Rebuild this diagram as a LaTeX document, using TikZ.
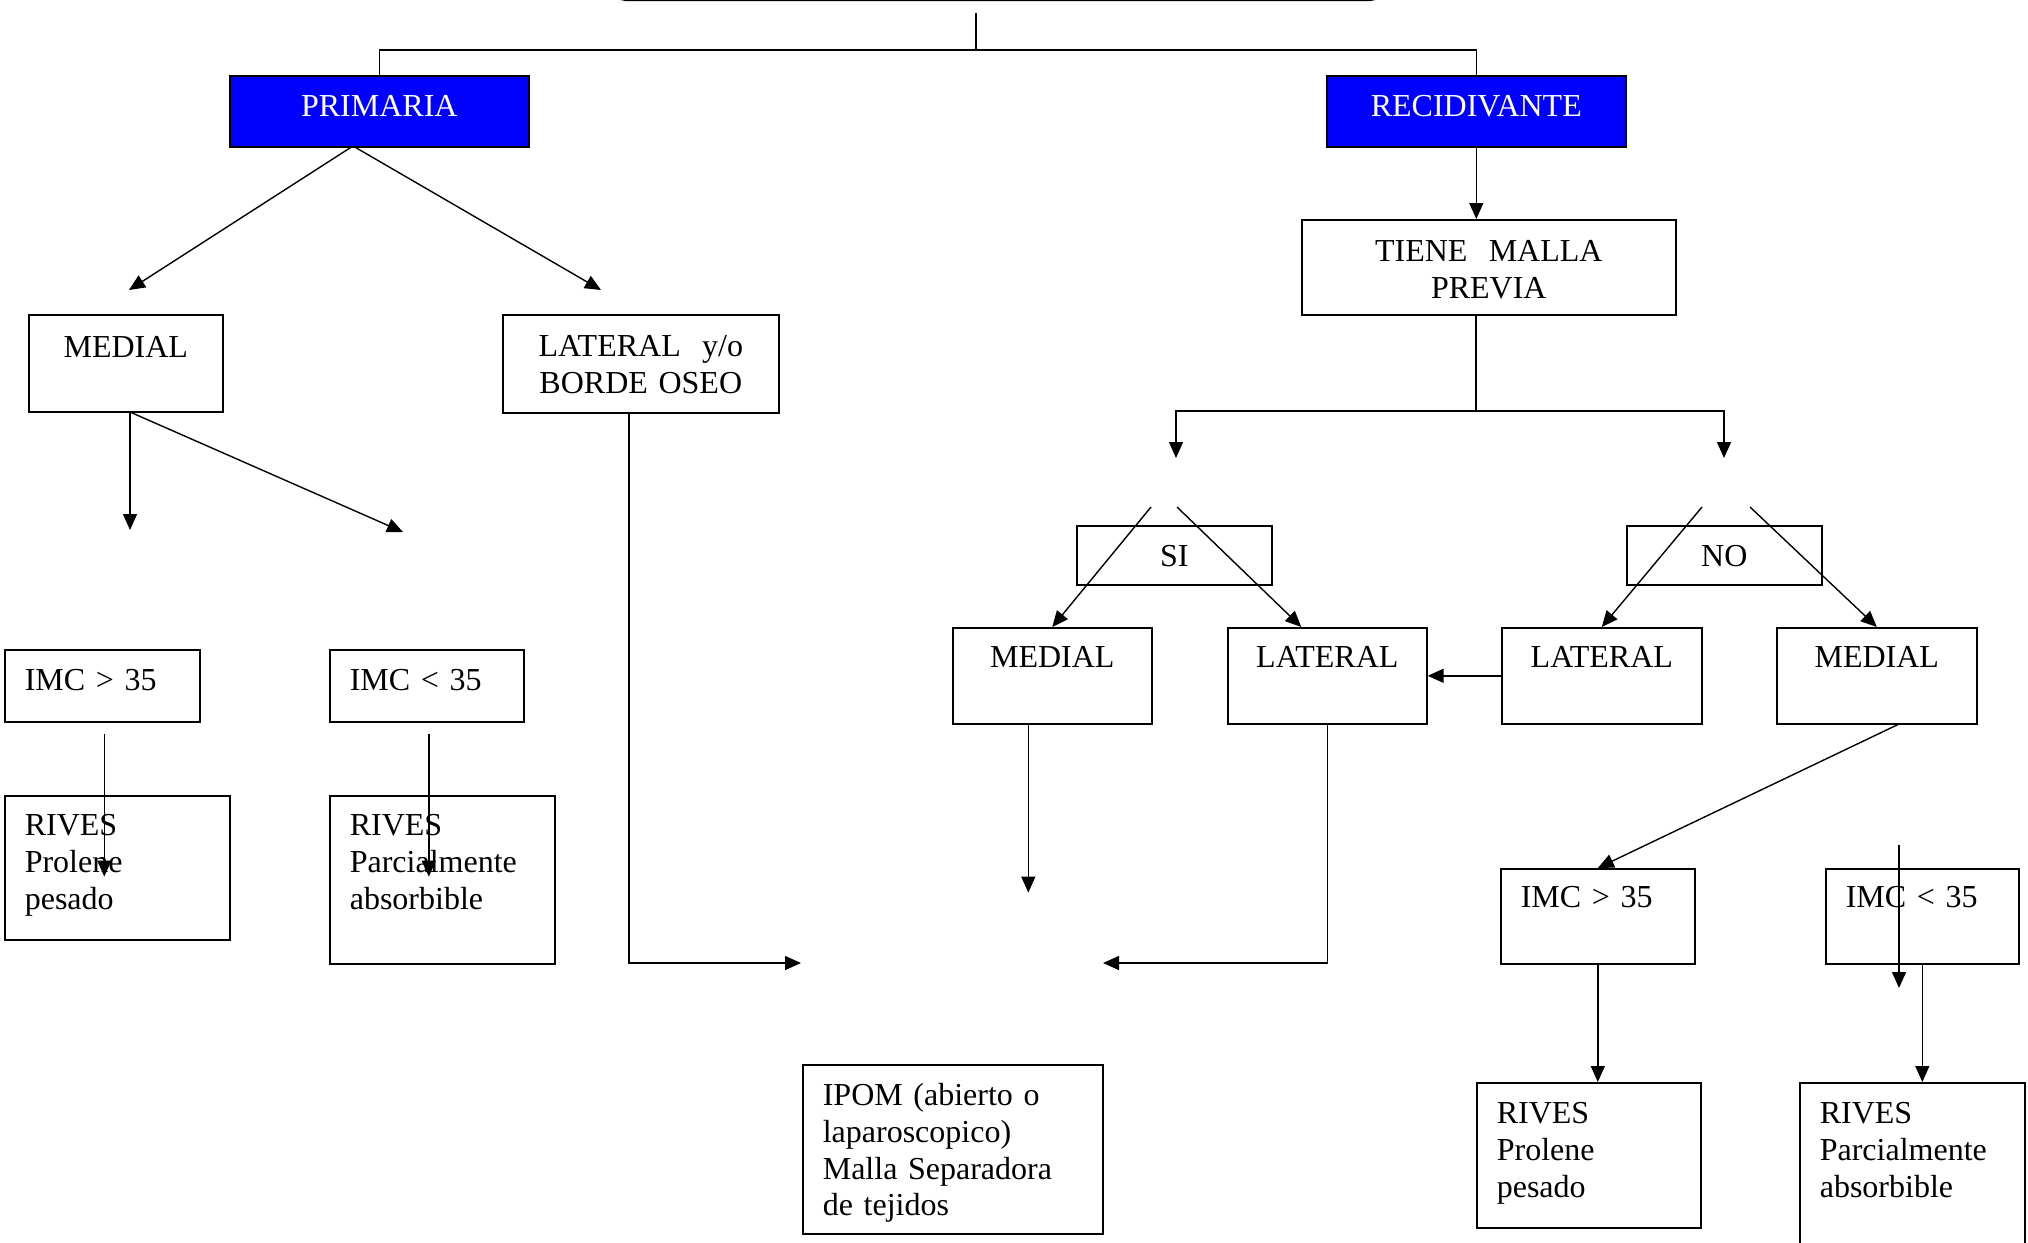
\documentclass[tikz,border=0pt]{standalone}
\usepackage{fontspec}
\setmainfont{Liberation Serif}
\usetikzlibrary{arrows.meta,calc}
\definecolor{boxblue}{RGB}{0,0,255}
\tikzset{%
	arr/.style={-{Triangle[length=8pt,width=7pt]}}
}

\begin{document}
\begin{tikzpicture}[x=0.5pt,y=-0.5pt,line width=0.7pt,font=\fontsize{16}{18.3}\selectfont,
	box/.style={draw,line width=0.8pt,anchor=north west,inner xsep=10pt,inner ysep=0pt,align=center},
	lbox/.style={box,align=left},
	bluebox/.style={box,fill=boxblue,text=white}]
				\useasboundingbox (0,0) rectangle (2028,1242);
				\node [draw,line width=1.5pt,rounded corners=6pt,minimum width=384.5pt,minimum height=40pt,anchor=south west] (top) at (612,1) {};
				\node [bluebox,text width=129.5pt,text height=20.5pt,text depth=15pt] (prim) at (229,75) {PRIMARIA};
				\node [bluebox,text width=129.5pt,text height=20.5pt,text depth=15pt] (recid) at (1326,75) {RECIDIVANTE};
				\node [box,text width=77pt,text height=21.5pt,text depth=27pt] (medL) at (28,314) {MEDIAL};
				\node [box,text width=118pt,text height=21pt,text depth=28pt] (latL) at (502,314) {LATERAL~ y/o\\BORDE OSEO};
				\node [lbox,text width=77.5pt,text height=20.5pt,text depth=15.5pt] (imcA) at (4,649) {IMC > 35};
				\node [lbox,text width=77pt,text height=20.5pt,text depth=15.5pt] (imcB) at (329,649) {IMC < 35};
				\node [lbox,text width=92.5pt,text height=20pt,text depth=52pt] (rivA) at (4,795) {RIVES\\Prolene\\pesado};
				\node [lbox,text width=92.5pt,text height=20pt,text depth=64pt] (rivB) at (329,795) {RIVES\\Parcialmente\\absorbible};
				\node [box,text width=167pt,text height=21pt,text depth=26.5pt] (tiene) at (1301,219) {TIENE~ MALLA\\PREVIA};
				\node [box,text width=77.5pt,text height=20.5pt,text depth=9pt] (si) at (1076,525) {SI};
				\node [box,text width=77.5pt,text height=20.5pt,text depth=9pt] (no) at (1626,525) {NO};
				\node [box,text width=79.5pt,text height=20pt,text depth=28pt] (medS) at (952,627) {MEDIAL};
				\node [box,text width=79.5pt,text height=20pt,text depth=28pt] (latS) at (1227,627) {LATERAL};
				\node [box,text width=80pt,text height=20pt,text depth=28pt] (latN) at (1501,627) {LATERAL};
				\node [box,text width=80pt,text height=20pt,text depth=28pt] (medN) at (1776,627) {MEDIAL};
				\node [lbox,text width=77pt,text height=19.5pt,text depth=28pt] (imcC) at (1500,868) {IMC > 35};
				\node [lbox,text width=76.5pt,text height=19.5pt,text depth=28pt] (imcD) at (1825,868) {IMC < 35};
				\node [lbox,text width=92pt,text height=20.5pt,text depth=52pt] (rivC) at (1476,1082) {RIVES\\Prolene\\pesado};
				\node [lbox,text width=92.5pt,text height=20.5pt,text depth=70pt] (rivD) at (1799,1082) {RIVES\\Parcialmente\\absorbible};
				\node [lbox,text width=130pt,text height=20.5pt,text depth=64pt] (ipom) at (802,1064) {IPOM (abierto o\\laparoscopico)\\Malla Separadora\\de tejidos};
				\coordinate (stem) at (976,13);
				\coordinate (split) at (976,50);
				\coordinate (pfrom) at (353,146);
				\coordinate (pmed) at (129,290);
				\coordinate (plat) at (601,290);
				\coordinate (mfrom) at (130,412);
				\coordinate (mdown) at (130,530);
				\coordinate (mside) at (403,532);
				\coordinate (fork) at (1476,411);
				\coordinate (siend) at (1176,458);
				\coordinate (noend) at (1724,458);
				\coordinate (ipomL) at (801,963);
				\coordinate (ipomR) at (1103,963);
				\coordinate (stray) at (1899,845);
				\draw (stem) -- (split);
				\draw (prim.north) -- (prim.north |- split) -- (recid.north |- split) -- (recid.north);
				\draw [arr] (pfrom) -- (pmed);
				\draw [arr] (pfrom) -- (plat);
				\draw [arr] (mfrom) -- (mdown);
				\draw [arr] (mfrom) -- (mside);
				\draw [arr] (imcA.south) ++(2,11) -- ++(0,143);
				\draw [arr] (imcB.south) ++(2,11) -- ++(0,143);
				\draw [arr] ([xshift=-6pt]latL.south) |- (ipomL);
				\draw [arr] (recid.south) -- (recid.south |- tiene.north);
				\draw (fork |- tiene.south) -- (fork);
				\draw [arr] (fork) -| (siend);
				\draw [arr] (fork) -| (noend);
				\draw [arr] (1151,507) -- (medS.north);
				\draw [arr] (1177,507) -- ([xshift=-13pt]latS.north);
				\draw [arr] (1702,507) -- (latN.north);
				\draw [arr] (1750,507) -- (medN.north);
				\draw [arr] (latN.west) -- (latS.east);
				\draw [arr] ([xshift=-12pt]medS.south) -- ++(0,168);
				\draw [arr] (latS.south) |- (ipomR);
				\draw [arr] ([xshift=10.5pt]medN.south) -- (imcC.north);
				\draw [arr] (imcC.south) -- (imcC.south |- rivC.north);
				\draw [arr] (imcD.south) -- (imcD.south |- rivD.north);
				\draw [arr] (stray) -- ++(0,143);
			\end{tikzpicture}
\end{document}
